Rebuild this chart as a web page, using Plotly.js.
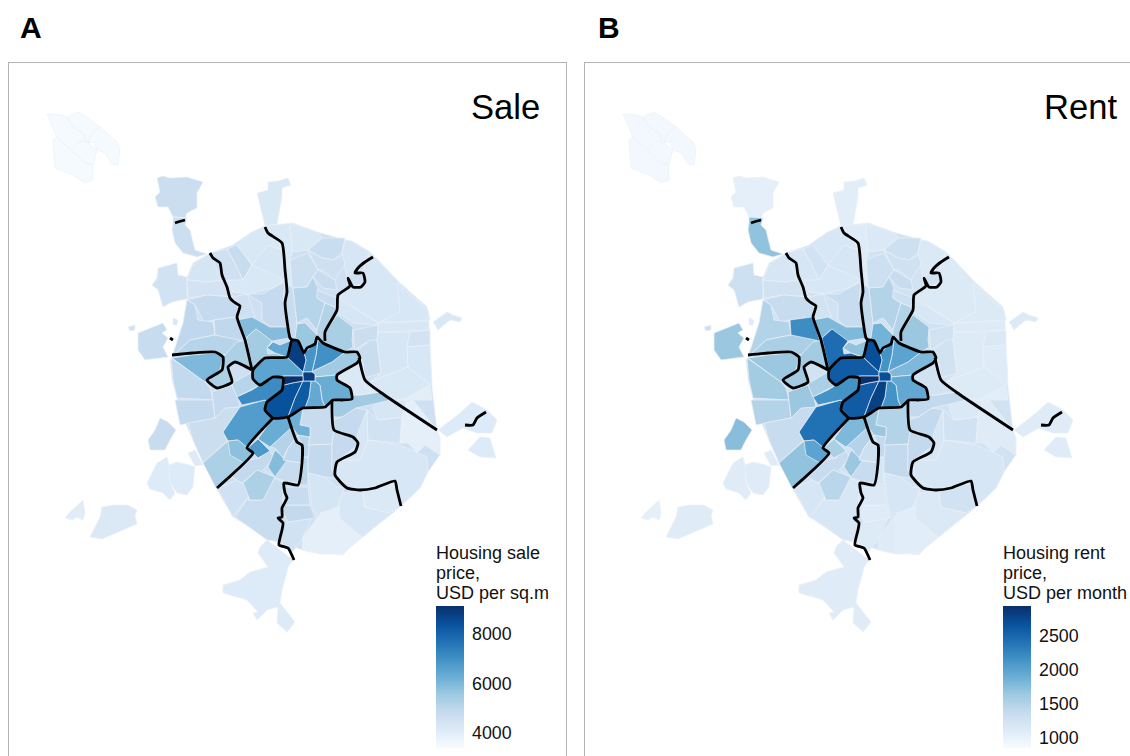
<!DOCTYPE html>
<html><head><meta charset="utf-8">
<script src="https://cdn.plot.ly/plotly-3.0.1.min.js"></script>
<style>html,body{margin:0;padding:0;background:#fff}#chart{width:1130px;height:756px}</style>
</head><body><div id="chart"></div>
<script>
// Map grid units; every district outline is a flat list x,y,x,y...
const districtOutlines = [
// ring base
[210,253,233,245,250,233,265,226,293,223,317,232,350,241,370,252,400,283,427,307,429,320,432,387,437,430,440,438,440,455,428,472,420,488,400,507,363,537,343,553,320,554,303,550,270,540,243,523,233,517,216,488,197,450,180,410,172,380,170,360,172,357,183,323,187,300,187,277,193,263],
// Zelenograd
[47,114,60,115,67,117,73,127,82,132,86,141,71,150,57,137],
[67,117,78,112,88,118,100,127,92,133,88,143,82,132,73,127],
[100,127,117,142,120,148,118,165,112,164,105,153,97,150,94,142,88,143,92,133],
[71,150,80,141,88,143,97,150,93,165,85,163],
[53,140,57,137,71,150,85,163,93,165,93,180,85,183,73,175,55,168],
// exclaves
[157,178,163,176,170,178,187,177,203,182,197,193,197,208,187,213,185,218,173,217,168,207,158,207,155,197,160,192],
[173,217,187,218,185,225,190,230,195,250,207,254,197,257,183,253,175,243,172,230,173,223],
[257,193,268,190,268,182,278,181,288,178,291,185,282,188,282,197,277,225,265,226],
[158,268,177,263,178,275,187,277,187,299,172,302,163,307,158,290,152,285,157,278],
[128,327,135,325,135,330,130,331],
[138,333,163,323,167,330,162,333,168,338,163,347,168,357,145,360,138,350],
[173,318,178,320,177,325,173,325],
[148,440,155,430,160,418,168,422,176,430,170,440,165,450,150,450],
[147,483,153,470,157,463,167,457,169,465,170,483,175,493,170,500,163,493,150,489],
[169,465,177,462,190,465,195,467,193,487,187,495,177,493,170,483],
[188,453,195,450,203,465,195,466],
[65,518,70,512,83,500,85,513,83,520,77,517,72,520],
[90,537,100,517,102,507,113,505,128,505,137,510,135,515,137,524,102,539],
[260,547,267,540,293,560,288,567,287,572,282,590,280,603,295,622,287,632,277,623,278,607,267,610,257,620,253,613,258,612,247,600,223,593,223,585,240,580,250,572,268,567,258,553],
[433,322,447,312,453,315,462,318,460,322,450,320,438,330],
[438,430,460,413,472,402,487,410,497,420,492,433,477,433,463,428,447,437],
[468,450,480,437,490,438,496,458,480,457],
// north and west ring
[187,280,193,265,207,255,222,267,225,280,207,282],
[187,280,207,282,225,280,230,290,233,297,207,295,188,298],
[210,253,227,249,235,263,243,280,222,282],
[227,249,237,245,252,265,248,272,243,280,235,263],
[237,245,250,233,265,226,277,240,282,250,268,245,262,253,252,265],
[252,265,262,253,268,245,282,250,285,280,262,275],
[243,280,252,265,285,280,275,287,250,294,233,292,226,280],
[265,226,293,223,292,252,290,260,292,288,285,280,282,250,277,240],
[187,300,207,295,233,297,238,307,236,318,215,320,204,322,195,305],
[187,300,195,305,198,320,213,322,215,335,190,340,172,357,183,323],
[214,320,236,317,244,341,215,335],
[247,294,262,294,275,287,285,282,287,292,283,300,288,327,270,327,262,320,262,303],
[233,297,247,294,252,307,255,317,237,320,240,307],
[190,340,215,335,243,338,247,353,220,355,210,353,190,352,172,357],
[285,282,293,288,297,323,295,340,292,340,290,338,288,327,283,300],
[171,358,205,382,210,388,213,400,177,398,173,380],
[175,400,213,400,215,418,188,423,180,425],
[212,392,232,385,238,398,240,407,225,410,218,417,215,418,213,400],
[188,423,215,418,225,408,240,407,223,432,227,441,203,463,193,440],
[203,463,228,441,244,463,216,488],
[172,358,192,355,215,353,223,358,220,370,205,382],
[223,357,237,342,245,340,252,370,235,362,228,367,232,382,217,388,207,380,222,370],
[233,383,252,372,255,383,260,385,237,397,232,385],
[237,320,252,317,270,327,288,327,290,338,272,341,268,345,256,329,246,338],
// south ring
[217,488,238,480,252,492,233,517],
[235,517,252,492,248,500,260,500,275,478,283,482,283,495,282,510,280,542,267,540,243,523],
[280,542,282,527,288,522,312,518,300,543,292,552],
[283,505,310,505,315,518,288,522,282,510],
[285,487,308,487,310,505,283,505],
[298,485,303,457,308,457,308,485],
[283,460,302,463,298,483,287,482,273,477],
[308,445,332,444,332,470,337,478,325,477,308,473],
[308,473,325,477,337,487,345,487,337,507,317,517,312,507],
[302,550,303,537,317,518,328,513,333,554,320,554],
[328,513,337,508,345,512,350,528,350,547,343,555,333,554],
[338,507,343,493,363,490,365,507,390,513,363,537,340,520],
[320,513,340,507,338,517,362,537,343,553,320,554],
[363,490,397,483,400,507,390,513,365,507],
// south east ring
[360,460,368,440,400,445,427,457,428,472,420,488,400,507,397,482,375,488,357,488,337,478,338,460],
[340,413,367,410,368,440,360,460,338,460,358,445,357,435],
[367,410,378,420,402,417,400,443,368,440],
[402,417,405,403,413,400,437,430,440,438,440,455,425,445,417,453,408,443,400,443],
[377,400,390,400,407,400,402,417,378,420,373,408],
[333,420,342,417,356,408,367,410,357,435,358,445,338,460,337,478,332,470,332,445],
// east and north east ring
[290,223,317,232,322,237,308,250,292,252],
[323,238,345,238,342,253,333,260,322,258,308,250],
[345,240,352,241,370,252,358,272,353,273,347,278,342,253],
[290,260,308,253,318,270,313,277,307,287,292,288],
[308,250,322,258,333,260,343,255,345,265,335,280,323,270,318,270],
[318,270,335,280,337,290,323,288,313,277],
[370,252,400,283,427,307,400,313,378,323,340,298,347,287,367,283,362,272],
[397,283,428,310,430,320,378,323,400,312],
[337,298,378,323,377,325,353,323,338,313],
[293,288,307,287,313,277,318,288,317,298,325,303,317,330,307,318,297,323],
[325,303,335,307,337,315,325,332,325,341,323,343,317,337,317,330,320,320],
[317,290,337,298,335,307,325,303,317,298],
[325,332,337,315,353,327,352,340,353,347,345,352,323,343,325,340],
[353,330,378,325,377,340,365,343,355,350],
[370,340,377,340,381,373,365,378,363,363,358,350],
[378,332,410,332,407,347,408,367,370,382,381,373,377,340],
[378,323,428,321,429,330,378,332],
[410,332,430,330,430,345,407,347],
[407,347,430,345,432,385,408,367],
[370,382,408,367,430,385,403,400,385,398],
[403,400,430,385,432,400,413,400],
[297,324,305,323,317,335,317,337,315,344,307,348,304,353,298,341,292,340,295,338],
// inner west and south
[214,320,236,317,244,341,215,335],
[246,338,256,329,272,341,267,348,268,354,275,353,287,357,265,358,253,370],
[267,348,273,342,280,345,292,340,287,357,275,353],
[232,477,250,460,260,458,268,450,275,457,263,470,275,477,257,470,242,483],
[243,483,257,470,275,477,263,500,250,500],
[268,467,275,450,287,460,275,477],
[270,447,292,427,298,435,288,448,283,458,275,448],
[288,448,298,435,302,445,303,463,283,460],
[298,435,310,437,308,457,303,457,302,445],
[303,408,325,407,333,400,334,430,332,444,308,445,310,437,310,427,300,425],
[288,417,303,408,300,425,310,427,310,437,298,435,292,427],
[273,418,288,417,292,427,270,447,258,439],
[223,432,240,407,265,400,267,402,265,410,273,418,247,448,238,440,228,441],
[228,441,238,440,248,448,256,454,244,463,230,455],
[248,448,258,439,270,451,258,458],
[237,397,252,390,260,385,273,377,283,378,282,390,267,402,265,400,242,405],
// centre
[333,400,352,399,352,395,360,395,380,392,390,400,378,403,356,408,342,417,334,417],
[337,375,357,363,359,358,365,380,380,392,360,395,352,395,350,388,337,380],
[253,370,265,358,287,357,303,372,303,376,284,376,273,377,260,385,253,379],
[345,352,357,352,360,358,357,363,337,375,315,377,315,374,312,372,315,370,332,362],
[318,340,323,343,345,352,332,362,315,370,312,372,316,355],
[304,353,315,344,318,340,316,355,312,372,303,372,306,360],
[315,377,337,375,337,380,350,388,352,399,333,400,325,407,322,400,320,385,315,381],
[311,381,315,381,320,385,322,400,325,407,305,408,309,397],
[265,410,267,402,282,390,284,385,292,383,303,381,295,398,288,417,273,418],
[303,381,311,381,309,397,305,408,288,417,295,398],
[287,357,292,340,298,341,304,353,306,360,303,372,312,372,315,374,315,381,303,381,303,372],
[283,378,284,376,303,376,303,381,292,383,284,385]
];
const salePrice = [4600,
3450,3450,3450,3450,3450,
4700,4650,4250,4500,4500,4800,4300,4800,4150,4150,4150,4050,4200,4150,4250,4150,4150,
4400,4450,4600,4800,4250,4350,4250,4250,4850,4950,4950,4850,4600,5100,4800,4900,4900,4850,4700,5300,6000,5300,5100,5900,
4550,4750,4500,4900,4800,5000,4800,4900,4400,3950,3950,4300,3950,4200,
4300,4350,4500,3950,4350,4850,
4250,4750,4350,4650,4600,4800,4300,4300,4350,5100,5150,4800,5350,4700,4750,4350,4300,4450,4300,4250,4000,5600,
4950,5450,6400,4900,5300,5900,5150,4950,5100,4800,6200,6300,6700,5800,6800,7100,
5500,4200,6500,5500,7000,6900,6300,6400,8400,8200,8800,9100];
const rentPrice = [1250,
900,900,900,900,900,
1050,1700,1080,1300,1300,1650,1100,1750,1100,1100,1100,1050,1100,1100,1130,1100,1100,
1200,1250,1200,1250,1180,1200,1180,1100,1350,1500,2200,1350,1250,1550,1400,1600,1500,1650,1350,1700,1650,1600,1550,1800,
1200,1180,1120,1100,1150,1200,1350,1400,1200,1100,1080,1150,1080,1250,
1200,1200,1250,1100,1150,1400,
1150,1300,1150,1300,1280,1350,1130,1130,1180,1500,1500,1300,1650,1250,1250,1120,1120,1150,1100,1120,1080,1850,
2200,2450,1700,1350,1450,1650,1500,1300,1400,1500,1650,1800,2420,2000,1550,2150,
1400,1250,2600,1800,2000,2150,1950,2150,2600,2800,2700,2945];
const roadLines = [
[175,223,178,222,185,220],
[170,338,173,340],
[465,425,473,425,477,418,486,412],
[210,253,213,258,220,263,222,275,227,287,230,298,234,302,240,306,237,317,245,340,252,370],
[265,227,268,233,282,243,285,270,287,292,285,303,290,338,292,340],
[373,257,365,262,358,268,355,273,363,273,365,282,361,287,353,287,348,278,350,286,338,295,337,310,325,332,325,341],
[253,370,265,358,287,357,292,340,298,341,304,353,307,348,315,344,317,337,323,343,345,352,357,352,360,358,357,363,337,375,337,380,350,388,352,399,342,400,333,400,325,407,303,408,288,417,273,418,265,410,267,402,282,390,283,378,273,377,260,385,253,379,253,370],
[172,355,192,353,215,352,223,357,222,370,207,380,217,388,232,382,228,367,235,362,252,370],
[273,418,247,448,253,453,217,488],
[288,417,297,442,302,445,302,463,298,485,284,483,285,493,287,498,282,508,282,517,278,518,283,523,282,530,279,545,288,548,294,560],
[332,400,334,430,353,437,358,443,355,452,337,462,335,475,347,488,360,490,375,488,395,481,397,490,401,506],
[359,358,365,380,380,392,437,430]
];
const blues = ['#f7fbff','#deebf7','#c6dbef','#9ecae1','#6baed6','#4292c6','#2171b5','#08519c','#08306b'];
const saleRange = [3394,9130], rentRange = [850,2945];
const saleTicks = [4000,6000,8000], rentTicks = [1000,1500,2000,2500];
const saleLegend = ['Housing sale','price,','USD per sq.m'];
const rentLegend = ['Housing rent','price,','USD per month'];
const FONT = '"Liberation Sans", Arial, sans-serif';
const W = 1130, H = 756;

function hex(c){return [1,3,5].map(i=>parseInt(c.substr(i,2),16));}
function shade(v,r){
  const t = Math.max(0,Math.min(1,(v-r[0])/(r[1]-r[0])))*(blues.length-1);
  const i = Math.min(blues.length-2,Math.floor(t)), f = t-i;
  const a = hex(blues[i]), b = hex(blues[i+1]);
  return 'rgb('+a.map((x,k)=>Math.round(x+(b[k]-x)*f)).join(',')+')';
}
const xs = o=>o.filter((_,i)=>i%2===0), ys = o=>o.filter((_,i)=>i%2===1);
const traces = [];
function addPanel(values, range, xa, ya, ca){
  districtOutlines.forEach((o,i)=>{
    traces.push({type:'scatter',mode:'lines',xaxis:xa,yaxis:ya,x:xs(o).concat(o[0]),y:ys(o).concat(o[1]),
      fill:'toself',fillcolor:shade(values[i],range),line:{color:'#edf1f6',width:0.7},hoverinfo:'skip'});
  });
  roadLines.forEach(o=>{
    traces.push({type:'scatter',mode:'lines',xaxis:xa,yaxis:ya,x:xs(o),y:ys(o),
      line:{color:'#000',width:2.8,shape:'spline',smoothing:0.5},hoverinfo:'skip'});
  });
  traces.push({type:'scatter',mode:'markers',xaxis:xa,yaxis:ya,
    x:districtOutlines.map(o=>o[0]),y:districtOutlines.map(o=>o[1]),
    marker:{color:values,coloraxis:ca,size:1,opacity:0},hoverinfo:'skip'});
}
addPanel(salePrice,saleRange,'x','y','coloraxis');
addPanel(rentPrice,rentRange,'x2','y2','coloraxis2');

const scale = blues.map((c,i)=>[i/(blues.length-1),c]);
function bar(range,ticks,left){
  return {cmin:range[0],cmax:range[1],colorscale:scale,colorbar:{
    x:left/W,xanchor:'left',y:1-748/H,yanchor:'bottom',len:142,lenmode:'pixels',thickness:28,thicknessmode:'pixels',
    xpad:0,ypad:0,outlinewidth:0,borderwidth:0,tickvals:ticks,ticktext:ticks.map(String),ticks:'outside',ticklen:5,tickcolor:'#fff',tickwidth:1,
    tickfont:{family:FONT,size:17.8,color:'#111'}}};
}
function label(text,x,y,size,anchor,bold,col){
  return {xref:'paper',yref:'paper',x:x/W,y:1-y/H,text:bold?'<b>'+text+'</b>':text,showarrow:false,xanchor:anchor,yanchor:'middle',
    font:{family:FONT,size:size,color:col||'#000'}};
}
function seg(x0,y0,x1,y1,col,w){
  return {type:'line',xref:'paper',yref:'paper',x0:x0/W,x1:x1/W,y0:1-y0/H,y1:1-y1/H,line:{color:col,width:w}};
}
const frame = '#b4b4b4';
const shapes = [seg(8,62.5,567,62.5,frame,1),seg(8.5,62,8.5,756,frame,1),seg(566.5,62,566.5,756,frame,1),
  seg(584,62.5,1130,62.5,frame,1),seg(584.5,62,584.5,756,frame,1)];
function barTicks(ticks,r,left){
  ticks.forEach(t=>{const y=748-(t-r[0])/(r[1]-r[0])*142;
    shapes.push(seg(left,y,left+5.5,y,'#fff',1)); shapes.push(seg(left+22.5,y,left+28,y,'#fff',1));});
}
barTicks(saleTicks,saleRange,436); barTicks(rentTicks,rentRange,1003);
const legendLineY = [553,573,593];
const annotations = [label('A',31,28,30,'center',true),label('B',609,28,30,'center',true),
  label('Sale',542,107,34.6,'right',false),label('Rent',1119,107,34.6,'right',false)];
saleLegend.forEach((t,i)=>annotations.push(label(t,434,legendLineY[i],18,'left',false,'#111')));
rentLegend.forEach((t,i)=>annotations.push(label(t,1001,legendLineY[i],18,'left',false,'#111')));

const hidden = {visible:false,fixedrange:true};
const layout = {width:W,height:H,margin:{l:0,r:0,t:0,b:0},paper_bgcolor:'#fff',plot_bgcolor:'rgba(0,0,0,0)',showlegend:false,hovermode:false,
  xaxis:Object.assign({domain:[9/W,566/W],range:[9,566]},hidden),
  yaxis:Object.assign({domain:[0,1-62/H],range:[756,62]},hidden),
  xaxis2:Object.assign({domain:[585/W,1],range:[9,554]},hidden),
  yaxis2:Object.assign({domain:[0,1-62/H],range:[756,62]},hidden),
  coloraxis:bar(saleRange,saleTicks,436),
  coloraxis2:bar(rentRange,rentTicks,1003),
  shapes:shapes,annotations:annotations};
Plotly.newPlot('chart',traces,layout,{displayModeBar:false,staticPlot:true});
</script></body></html>
